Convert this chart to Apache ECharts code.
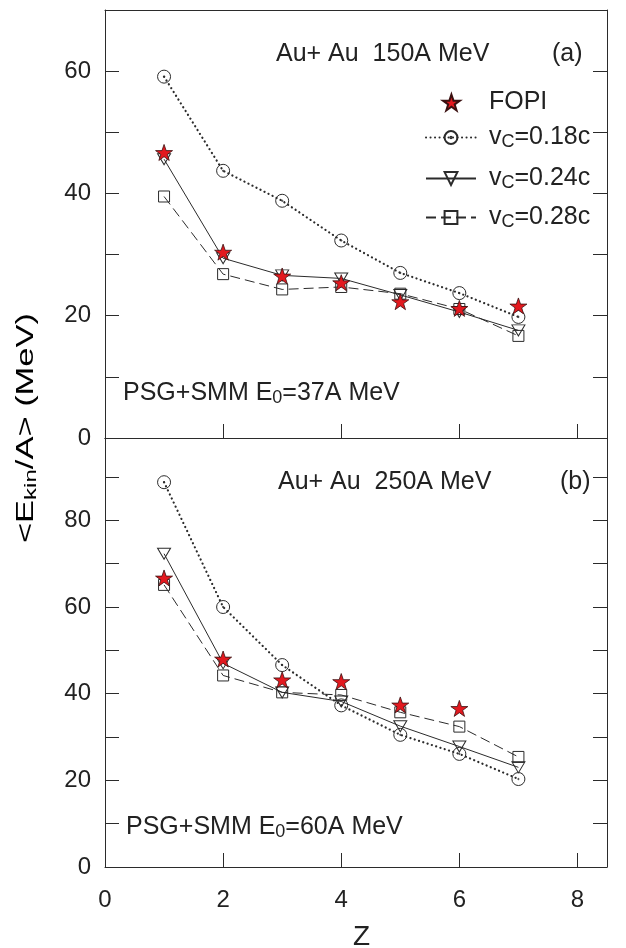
<!DOCTYPE html>
<html><head><meta charset="utf-8">
<script src="https://cdn.jsdelivr.net/npm/echarts@6/dist/echarts.min.js"></script>
<style>html,body{margin:0;padding:0;background:#fff}#c{width:626px;height:948px}</style>
</head><body><div id="c"></div>
<script>
// ---- data ----
const Z = [1, 2, 3, 4, 5, 6, 7];
// panel (a): Au+Au 150A MeV
const fopiA = [46.7, 30.4, 26.5, 25.4, 22.3, 21.2, 21.6];
const v018A = [59.1, 43.7, 38.8, 32.3, 27.0, 23.7, 19.8];
const v024A = [45.6, 29.4, 26.6, 26.1, 23.4, 20.6, 17.6];
const v028A = [39.5, 26.8, 24.3, 24.7, 23.6, 21.1, 16.7];
// panel (b): Au+Au 250A MeV
const fopiB = [66.7, 48.0, 43.2, 42.8, 37.4, 36.6];
const v018B = [88.8, 60.0, 46.6, 37.3, 30.5, 26.1, 20.3];
const v024B = [72.3, 47.0, 40.3, 38.2, 32.5, 27.8, 23.0];
const v028B = [65.1, 44.2, 40.3, 39.7, 35.7, 32.4, 25.4];
// tick labels
const xTickLabels = [0, 2, 4, 6, 8];
const yTickLabelsA = [0, 20, 40, 60];
const yTickLabelsB = [0, 20, 40, 60, 80];
const seriesNames = ['FOPI', 'v018', 'v024', 'v028'];
const legendLabels = { FOPI: ['FOPI'], v018: ['v', 'C', '=0.18c'], v024: ['v', 'C', '=0.24c'], v028: ['v', 'C', '=0.28c'] };

// ---- styling ----
const FONT = '"Liberation Sans", Arial, Helvetica, sans-serif';
const INK = '#2b2b2b';
const TXT = '#222';
const STAR = 'path://M50,0 L61.8,35.1 L98.1,35.1 L68.7,56.7 L79.4,91.3 L50,70 L20.6,91.3 L31.3,56.7 L1.9,35.1 L38.2,35.1 Z';
const CIRC = 'path://M50,0 A50,50 0 1,1 50,100 A50,50 0 1,1 50,0 Z M50,45 A5,5 0 1,1 50,55 A5,5 0 1,1 50,45 Z';
const TRI = 'path://M0,0 L100,0 L50,86 Z';
const SQR = 'path://M0,0 L100,0 L100,100 L0,100 Z';
const CLEAR = 'rgba(255,255,255,0)';

const richStyles = {
  m: { fontSize: 25, lineHeight: 28, fontFamily: FONT, color: TXT },
  s: { fontSize: 18, lineHeight: 9, verticalAlign: 'bottom', fontFamily: FONT, color: TXT }
};

function pairs(arr) { return arr.map((v, i) => [Z[i], v]); }

function lineSeries(name, arr, gi, symbol, size, lineStyle) {
  return {
    name, type: 'line', xAxisIndex: gi * 2, yAxisIndex: gi * 2, data: pairs(arr),
    symbol, symbolSize: size, showSymbol: true, animation: false,
    lineStyle: Object.assign({ color: INK }, lineStyle),
    itemStyle: { color: CLEAR, borderColor: INK, borderWidth: 1, opacity: 1 },
    emphasis: { disabled: true }, z: 3
  };
}
function starSeries(arr, gi) {
  return {
    name: 'FOPI', type: 'scatter', xAxisIndex: gi * 2, yAxisIndex: gi * 2, data: pairs(arr),
    symbol: STAR, symbolSize: [17, 16], animation: false,
    itemStyle: { color: '#e3191f', borderColor: '#3a1010', borderWidth: 0.8, opacity: 1 },
    emphasis: { disabled: true }, z: 5
  };
}

function xAx(gi, pos, ticks, labels, name) {
  const a = {
    type: 'value', gridIndex: gi, position: pos, min: 0, max: 8.5, interval: 2,
    axisLine: { show: true, onZero: false, lineStyle: { color: INK, width: 1 } },
    axisTick: { show: ticks, inside: true, length: 14, lineStyle: { color: INK, width: 1 } },
    axisLabel: labels ? {
      show: true, margin: 21, fontSize: 24, color: TXT, fontFamily: FONT, showMaxLabel: false,
      formatter: v => labels.includes(v) ? String(v) : ''
    } : { show: false },
    splitLine: { show: false }
  };
  if (name) {
    a.name = name; a.nameLocation = 'middle'; a.nameGap = 56;
    a.nameTextStyle = { fontSize: 28, color: TXT, fontFamily: FONT, padding: [0, 0, 0, 11] };
  }
  return a;
}
function yAx(gi, pos, max, labels) {
  return {
    type: 'value', gridIndex: gi, position: pos, min: 0, max, interval: 10,
    axisLine: { show: true, onZero: false, lineStyle: { color: INK, width: 1 } },
    axisTick: { show: true, inside: true, length: 14, lineStyle: { color: INK, width: 1 } },
    axisLabel: labels ? {
      show: true, margin: 14, fontSize: 24, color: TXT, fontFamily: FONT,
      formatter: v => labels.includes(v) ? String(v) : ''
    } : { show: false },
    splitLine: { show: false }
  };
}

function legendFor(name, left, top, w, h, padLeft) {
  return {
    data: [name], left, top, orient: 'vertical', itemWidth: w, itemHeight: h, padding: 0,
    selectedMode: false,
    formatter: n => {
      const p = legendLabels[n];
      return p.length === 1 ? '{m|' + p[0] + '}' : '{m|' + p[0] + '}{s|' + p[1] + '}{m|' + p[2] + '}';
    },
    textStyle: { padding: [0, 0, 0, padLeft], rich: richStyles, fontFamily: FONT, color: TXT }
  };
}

function label(text, x, y) {
  return { type: 'text', x, y, silent: true, style: { text, rich: richStyles, align: 'left', verticalAlign: 'middle', fontFamily: FONT, fill: TXT } };
}

const option = {
  backgroundColor: '#fff',
  animation: false,
  grid: [
    { left: 105, top: 10, width: 502, height: 428, containLabel: false, outerBoundsMode: 'none' },
    { left: 105, top: 438, width: 502, height: 429, containLabel: false, outerBoundsMode: 'none' }
  ],
  xAxis: [
    xAx(0, 'bottom', true, null),
    xAx(0, 'top', false, null),
    xAx(1, 'bottom', true, xTickLabels, 'Z'),
    xAx(1, 'top', false, null)
  ],
  yAxis: [
    yAx(0, 'left', 70, yTickLabelsA),
    yAx(0, 'right', 70, null),
    yAx(1, 'left', 99, yTickLabelsB),
    yAx(1, 'right', 99, null)
  ],
  legend: [
    legendFor('FOPI', 442, 90, 17, 16, 24),
    legendFor('v018', 425, 125, 50, 16, 8),
    legendFor('v024', 425, 166, 50, 16, 8),
    legendFor('v028', 425, 205, 50, 16, 8)
  ],
  series: [
    lineSeries('v018', v018A, 0, CIRC, 13, { width: 2.2, type: [0.1, 4.4], cap: 'round' }),
    lineSeries('v024', v024A, 0, TRI, [13, 11], { width: 1, type: 'solid' }),
    lineSeries('v028', v028A, 0, SQR, 11, { width: 1, type: [10, 5] }),
    starSeries(fopiA, 0),
    lineSeries('v018', v018B, 1, CIRC, 13, { width: 2.2, type: [0.1, 4.4], cap: 'round' }),
    lineSeries('v024', v024B, 1, TRI, [13, 11], { width: 1, type: 'solid' }),
    lineSeries('v028', v028B, 1, SQR, 11, { width: 1, type: [10, 5] }),
    starSeries(fopiB, 1)
  ],
  graphic: [
    label('{m|Au+ Au  150A MeV}', 276, 54),
    label('{m|(a)}', 552, 54),
    label('{m|PSG+SMM E}{s|0}{m|=37A MeV}', 123, 393),
    label('{m|Au+ Au  250A MeV}', 278, 482),
    label('{m|(b)}', 560, 482),
    label('{m|PSG+SMM E}{s|0}{m|=60A MeV}', 126, 827),
    {
      type: 'text', x: 27, y: 428, rotation: Math.PI / 2, scaleX: 1.5, silent: true,
      style: {
        text: '{t|<E}{u|kin}{t|/A> (MeV)}', align: 'center', verticalAlign: 'middle',
        rich: {
          t: { fontSize: 23, lineHeight: 26, fontFamily: FONT, color: TXT },
          u: { fontSize: 16, lineHeight: 8, verticalAlign: 'bottom', fontFamily: FONT, color: TXT }
        }
      }
    }
  ]
};
const chart = echarts.init(document.getElementById('c'), null, { renderer: 'canvas' });
chart.setOption(option);
</script></body></html>
